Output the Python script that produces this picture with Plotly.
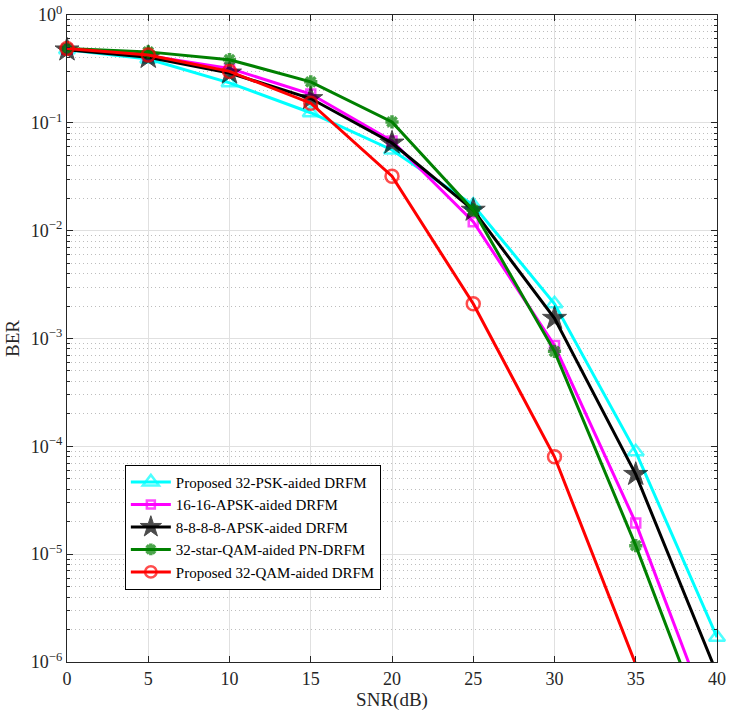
import numpy as np
import plotly.graph_objects as go

snr = [0, 5, 10, 15, 20, 25, 30, 35, 40]
psk32 = [0.475, 0.39, 0.235, 0.124, 0.056, 0.0173, 0.0021, 8.9e-5, 1.7e-6]
apsk1616 = [0.48, 0.42, 0.32, 0.185, 0.068, 0.0121, 8.6e-4, 1.95e-5, 2.0e-7]
apsk8888 = [0.475, 0.405, 0.29, 0.168, 0.065, 0.0155, 0.00154, 5.5e-5, 7.8e-7]
starqam = [0.49, 0.455, 0.385, 0.24, 0.102, 0.0155, 7.6e-4, 1.2e-5, 1.25e-7]
qam32 = [0.49, 0.425, 0.30, 0.152, 0.032, 0.0021, 8.0e-5, 9.5e-7]

names = ["Proposed 32-PSK-aided DRFM", "16-16-APSK-aided DRFM",
         "8-8-8-8-APSK-aided DRFM", "32-star-QAM-aided PN-DRFM",
         "Proposed 32-QAM-aided DRFM"]
series = [psk32, apsk1616, apsk8888, starqam, qam32]
colors = ["#00FFFF", "#FF00FF", "#000000", "#008000", "#FF0000"]
symbols = ["triangle-up-open", "square-open", "star", "asterisk-open", "circle-open"]
msizes = [14, 9, 18, 11, 13]
mlw = [2.5, 2.5, 1, 3.5, 2.5]

ytickvals = [1e-6, 1e-5, 1e-4, 1e-3, 1e-2, 1e-1, 1e0]
yexps = ["−6", "−5", "−4", "−3", "−2", "−1", "0"]
yticktext = ["10<sup>%s</sup>" % e for e in yexps]
xtickvals = [0, 5, 10, 15, 20, 25, 30, 35, 40]
yminor = [m * 10.0 ** k for k in range(-6, 0) for m in range(2, 10)]

YMIN = 1e-6
SERIF = "Liberation Serif"
fig = go.Figure()
for nm, ys, c, s, ms, lw in zip(names, series, colors, symbols, msizes, mlw):
    ys = np.array(ys)
    sizes = np.where(ys >= YMIN, ms, 0)
    fig.add_trace(go.Scatter(
        x=snr[:len(ys)], y=ys, name=nm, mode="lines+markers",
        cliponaxis=False,
        line=dict(color=c, width=3),
        marker=dict(symbol=s, size=sizes.tolist(), color=c,
                    line=dict(color=c, width=lw)),
    ))

tick_font = dict(family=SERIF, size=18, color="#262626")
title_font = dict(family=SERIF, size=19, color="#262626")
fig.update_layout(
    width=733, height=717,
    margin=dict(l=67, r=16, t=15, b=55),
    paper_bgcolor="white", plot_bgcolor="white",
    font=dict(family=SERIF, size=16, color="#262626"),
    showlegend=True,
    legend=dict(x=0.089, y=0.305, xanchor="left", yanchor="top",
                bgcolor="white", bordercolor="#000000", borderwidth=1,
                font=dict(family=SERIF, size=15, color="#000000"),
                itemwidth=40, tracegroupgap=0),
    xaxis=dict(range=[0, 40], tickvals=xtickvals, ticks="inside", ticklen=6,
               tickcolor="#262626", showline=True, linecolor="#262626", linewidth=1.3,
               mirror="ticks", showgrid=True, gridcolor="#E0E0E0", gridwidth=1,
               zeroline=False, tickfont=tick_font, automargin=False,
               title=dict(text="SNR(dB)", standoff=4, font=title_font)),
    yaxis=dict(type="log", range=[-6, 0], tickvals=ytickvals, ticktext=yticktext,
               ticks="inside", ticklen=6, tickcolor="#262626", tickfont=tick_font,
               showline=True, linecolor="#262626", linewidth=1.3, mirror="ticks",
               showgrid=True, gridcolor="#E0E0E0", gridwidth=1, zeroline=False,
               automargin=False,
               minor=dict(tickmode="array", tickvals=yminor, ticks="inside", ticklen=3,
                          tickcolor="#262626", showgrid=True, gridcolor="#BDBDBD",
                          griddash="1px,3px", gridwidth=1),
               title=dict(text="BER", standoff=6, font=title_font)),
)
fig.write_html("out.html")
